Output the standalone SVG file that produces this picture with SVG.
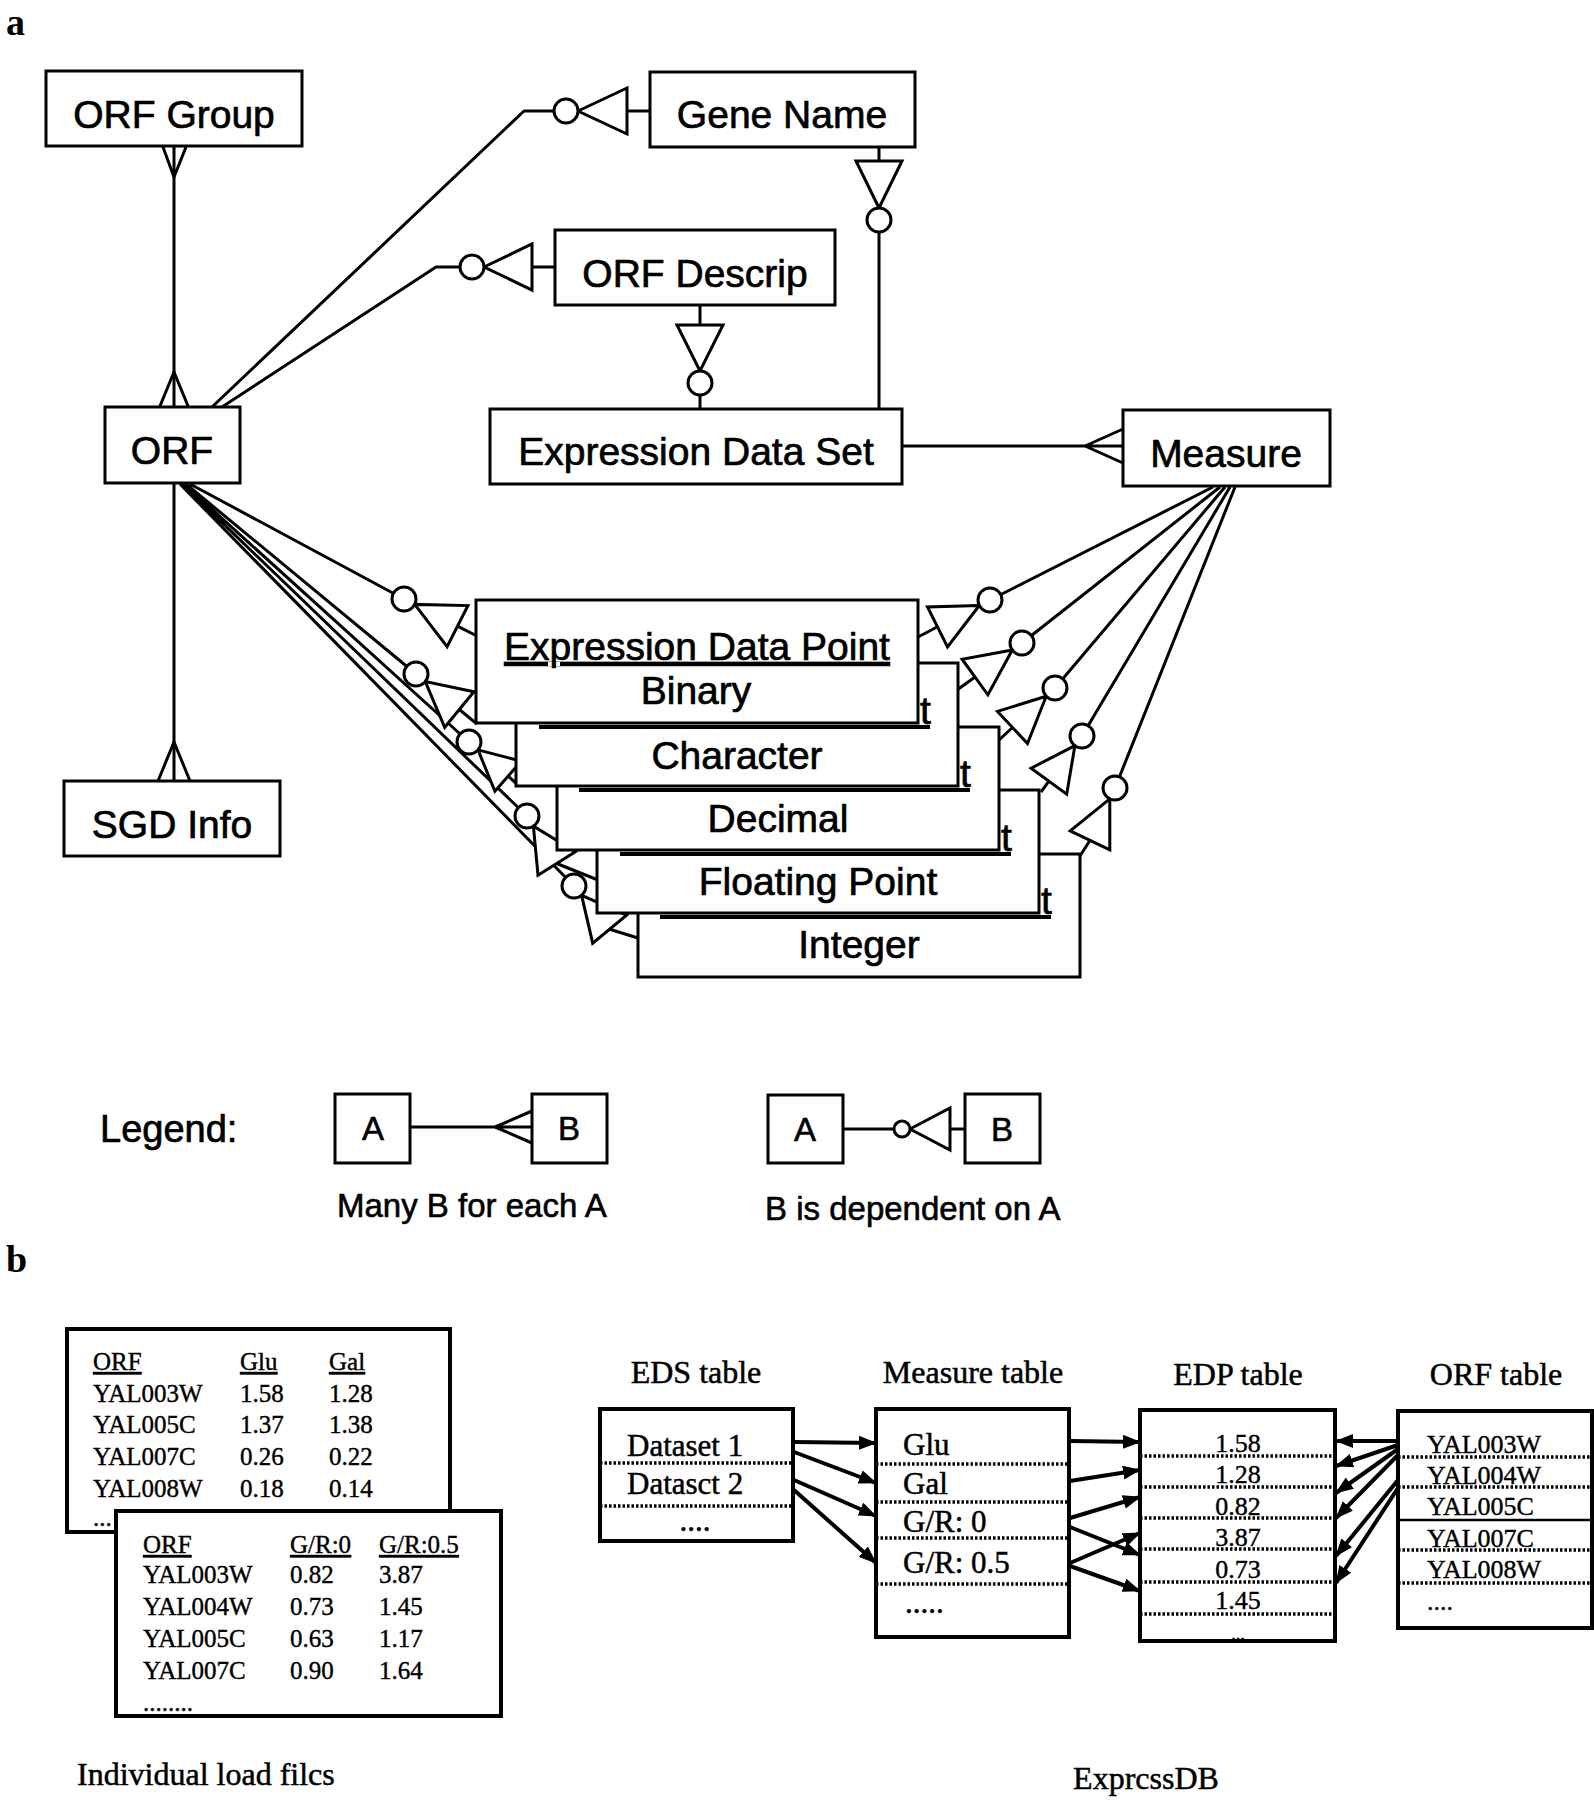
<svg xmlns="http://www.w3.org/2000/svg" width="1594" height="1800" viewBox="0 0 1594 1800">
<defs>
<style>
.box{fill:#fff;stroke:#000;stroke-width:3}
.bx{fill:#fff;stroke:#000;stroke-width:4}
.ln{fill:none;stroke:#000;stroke-width:3;stroke-linejoin:round}
.sym{fill:#fff;stroke:#000;stroke-width:3;stroke-linejoin:miter}
.ar{fill:none;stroke:#000;stroke-width:4;marker-end:url(#ah)}
.dot{fill:none;stroke:#000;stroke-width:3.5;stroke-dasharray:2.5 2}
.h{font-family:"Liberation Sans",Arial,Helvetica,sans-serif;font-size:39px;fill:#000;stroke:#000;stroke-width:0.7}
.hm{text-anchor:middle}
.lg{font-family:"Liberation Sans",Arial,Helvetica,sans-serif;font-size:33px;fill:#000;stroke:#000;stroke-width:0.6}
.pl{font-family:"Liberation Serif","Times New Roman",serif;font-weight:bold;font-size:38px;fill:#000}
.t25{font-family:"Liberation Serif","Times New Roman",serif;font-size:25px;fill:#000;stroke:#000;stroke-width:0.4}
.t26{font-family:"Liberation Serif","Times New Roman",serif;font-size:26px;fill:#000;stroke:#000;stroke-width:0.4}
.t31{font-family:"Liberation Serif","Times New Roman",serif;font-size:31px;fill:#000;stroke:#000;stroke-width:0.5}
.t32{font-family:"Liberation Serif","Times New Roman",serif;font-size:32px;fill:#000;stroke:#000;stroke-width:0.5}
.u{text-decoration:underline}
</style>
<marker id="ah" markerUnits="userSpaceOnUse" markerWidth="18" markerHeight="14" refX="17" refY="7" orient="auto"><path d="M0,0 L18,7 L0,14 z" fill="#000"/></marker>
</defs>
<rect width="1594" height="1800" fill="#fff"/>

<text class="pl" x="6" y="35">a</text>
<text class="pl" x="6" y="1272">b</text>

<!-- connectors panel a -->
<g id="connectors-a">
  <!-- ORF Group - ORF -->
  <path class="ln" d="M174,146 V407"/>
  <path class="ln" d="M163,147 L174,177 L186,147 M160,406 L174,372 L188,406"/>
  <!-- ORF - SGD Info -->
  <path class="ln" d="M174,483 V781"/>
  <path class="ln" d="M158,781 L174,742 L190,781"/>
  <!-- ORF - Gene Name -->
  <path class="ln" d="M212,407 L524,111 L566,111 M627,111 H650"/>
  <polygon class="sym" points="578,111 627,88 627,134"/>
  <circle class="sym" cx="566" cy="111" r="12"/>
  <!-- ORF - ORF Descrip -->
  <path class="ln" d="M222,407 L436,267 L472,267 M532,267 H555"/>
  <polygon class="sym" points="484,267 532,244 532,290"/>
  <circle class="sym" cx="472" cy="267" r="12"/>
  <!-- Gene Name - Expression Data Set -->
  <path class="ln" d="M879,147 V409"/>
  <polygon class="sym" points="879,208 856,161 902,161"/>
  <circle class="sym" cx="879" cy="220" r="12"/>
  <!-- ORF Descrip - Expression Data Set -->
  <path class="ln" d="M700,305 V409"/>
  <polygon class="sym" points="700,371 677,325 723,325"/>
  <circle class="sym" cx="700" cy="383" r="12"/>
  <!-- Expression Data Set - Measure -->
  <path class="ln" d="M902,446 H1123 M1085,446 L1123,429 M1085,446 L1123,463"/>

  <!-- ORF - Expression Data Point stack -->
  <path class="ln" d="M190,484 L404,599 M186,484 L416,674 M184,484 L469,742 M182,484 L527,816 M180,484 L574,886"/>
  <path class="ln" d="M457.5,626.1 L477,636 M459.3,709.5 L477,724 M508.1,776.2 L517,784 M556.7,863.5 L598,880 M609.6,929.2 L638,938"/>
  <polygon class="sym" points="414.7,604.4 447.1,646.6 467.9,605.6"/>
  <polygon class="sym" points="425.3,681.6 444.7,727.3 473.9,691.7"/>
  <polygon class="sym" points="478,749.9 494.9,791.2 521.3,761.2"/>
  <polygon class="sym" points="533.4,826.2 538,875.2 575.4,851.8"/>
  <polygon class="sym" points="581.6,895.3 592.7,943.2 626.6,915.2"/>
  <circle class="sym" cx="404" cy="599" r="12"/>
  <circle class="sym" cx="416" cy="674" r="12"/>
  <circle class="sym" cx="469" cy="742" r="12"/>
  <circle class="sym" cx="527" cy="816" r="12"/>
  <circle class="sym" cx="574" cy="886" r="12"/>

  <!-- Measure - Expression Data Point stack -->
  <path class="ln" d="M1213,487 L990,600 M1220,487 L1022,643 M1225,487 L1055,688 M1230,487 L1082,736 M1235,487 L1115,788"/>
  <path class="ln" d="M938,626.5 L918,637 M975,677 L957,690 M1012.5,727.5 L999,740 M1048.9,781.2 L1041,792 M1090,840.3 L1080,856"/>
  <polygon class="sym" points="979.3,605.5 927.5,607 947.5,647"/>
  <polygon class="sym" points="1012.3,650 962.1,659.2 987.9,694.8"/>
  <polygon class="sym" points="1046.2,696.2 997.5,711.4 1027.5,743.6"/>
  <polygon class="sym" points="1074.9,745.7 1031.1,768.2 1066.7,794.2"/>
  <polygon class="sym" points="1109.8,798.8 1070.2,830.8 1109.8,849.8"/>
  <circle class="sym" cx="990" cy="600" r="12"/>
  <circle class="sym" cx="1022" cy="643" r="12"/>
  <circle class="sym" cx="1055" cy="688" r="12"/>
  <circle class="sym" cx="1082" cy="736" r="12"/>
  <circle class="sym" cx="1115" cy="788" r="12"/>
</g>

<!-- nodes panel a -->
<g id="node-orf-group"><rect class="box" x="46" y="71" width="256" height="75"/><text class="h hm" x="174" y="128">ORF Group</text></g>
<g id="node-gene-name"><rect class="box" x="650" y="72" width="265" height="75"/><text class="h hm" x="782" y="128">Gene Name</text></g>
<g id="node-orf-descrip"><rect class="box" x="555" y="230" width="280" height="75"/><text class="h hm" x="695" y="287">ORF Descrip</text></g>
<g id="node-orf"><rect class="box" x="105" y="407" width="135" height="76"/><text class="h hm" x="172" y="464">ORF</text></g>
<g id="node-eds"><rect class="box" x="490" y="409" width="412" height="75"/><text class="h hm" x="696" y="465">Expression Data Set</text></g>
<g id="node-measure"><rect class="box" x="1123" y="410" width="207" height="76"/><text class="h hm" x="1226" y="467">Measure</text></g>
<g id="node-sgd-info"><rect class="box" x="64" y="781" width="216" height="75"/><text class="h hm" x="172" y="838">SGD Info</text></g>

<g id="node-integer"><rect class="box" x="638" y="854" width="442" height="123"/><text class="h hm" x="859" y="958">Integer</text></g>
<g id="node-floating"><rect class="box" x="597" y="790" width="442" height="123"/><text class="h hm" x="818" y="895">Floating Point</text>
  <path d="M660,917 H1051" stroke="#000" stroke-width="4"/><text class="h" x="1041" y="914">t</text></g>
<g id="node-decimal"><rect class="box" x="557" y="727" width="442" height="123"/><text class="h hm" x="778" y="832">Decimal</text>
  <path d="M620,854 H1011" stroke="#000" stroke-width="4"/><text class="h" x="1001" y="851">t</text></g>
<g id="node-character"><rect class="box" x="516" y="663" width="442" height="123"/><text class="h hm" x="737" y="769">Character</text>
  <path d="M579,790 H970" stroke="#000" stroke-width="4"/><text class="h" x="960" y="787">t</text></g>
<g id="node-edp"><rect class="box" x="476" y="600" width="442" height="123"/><text class="h hm u" x="697" y="660">Expression Data Point</text><text class="h hm" x="696" y="704">Binary</text>
  <path d="M539,727 H930" stroke="#000" stroke-width="4"/><text class="h" x="920" y="724">t</text></g>

<!-- legend -->
<g id="legend">
  <text class="h" x="100" y="1142" style="font-size:38px">Legend:</text>
  <g id="legend-many">
    <rect class="box" x="335" y="1094" width="75" height="69"/><text class="lg hm" x="373" y="1140">A</text>
    <rect class="box" x="532" y="1094" width="75" height="69"/><text class="lg hm" x="569" y="1140">B</text>
    <path class="ln" d="M410,1127 H532 M495,1127 L532,1111 M495,1127 L532,1143"/>
    <text class="lg" x="337" y="1217">Many B for each A</text>
  </g>
  <g id="legend-dep">
    <rect class="box" x="768" y="1095" width="75" height="68"/><text class="lg hm" x="805" y="1141">A</text>
    <rect class="box" x="965" y="1094" width="75" height="69"/><text class="lg hm" x="1002" y="1141">B</text>
    <path class="ln" d="M843,1129 H895 M950,1129 H965"/>
    <polygon class="sym" points="910,1129 950,1108 950,1150"/>
    <circle class="sym" cx="902" cy="1129" r="8"/>
    <text class="lg" x="765" y="1220">B is dependent on A</text>
  </g>
</g>

<!-- panel b -->
<g id="load-file-1">
  <rect class="bx" x="67" y="1329" width="383" height="203"/>
  <text class="t25 u" x="93" y="1370">ORF</text><text class="t25 u" x="240" y="1370">Glu</text><text class="t25 u" x="329" y="1370">Gal</text>
  <text class="t25" x="93" y="1402">YAL003W</text><text class="t25" x="240" y="1402">1.58</text><text class="t25" x="329" y="1402">1.28</text>
  <text class="t25" x="93" y="1433">YAL005C</text><text class="t25" x="240" y="1433">1.37</text><text class="t25" x="329" y="1433">1.38</text>
  <text class="t25" x="93" y="1465">YAL007C</text><text class="t25" x="240" y="1465">0.26</text><text class="t25" x="329" y="1465">0.22</text>
  <text class="t25" x="93" y="1497">YAL008W</text><text class="t25" x="240" y="1497">0.18</text><text class="t25" x="329" y="1497">0.14</text>
  <text class="t25" x="93" y="1526">...</text>
</g>
<g id="load-file-2">
  <rect class="bx" x="116" y="1511" width="385" height="205"/>
  <text class="t25 u" x="143" y="1553">ORF</text><text class="t25 u" x="290" y="1553">G/R:0</text><text class="t25 u" x="379" y="1553">G/R:0.5</text>
  <text class="t25" x="143" y="1583">YAL003W</text><text class="t25" x="290" y="1583">0.82</text><text class="t25" x="379" y="1583">3.87</text>
  <text class="t25" x="143" y="1615">YAL004W</text><text class="t25" x="290" y="1615">0.73</text><text class="t25" x="379" y="1615">1.45</text>
  <text class="t25" x="143" y="1647">YAL005C</text><text class="t25" x="290" y="1647">0.63</text><text class="t25" x="379" y="1647">1.17</text>
  <text class="t25" x="143" y="1679">YAL007C</text><text class="t25" x="290" y="1679">0.90</text><text class="t25" x="379" y="1679">1.64</text>
  <text class="t25" x="143" y="1711">........</text>
</g>
<text class="t32" x="77" y="1785">Individual load filcs</text>

<text class="t32 hm" x="696" y="1383">EDS table</text>
<text class="t32 hm" x="973" y="1383">Measure table</text>
<text class="t32 hm" x="1238" y="1385">EDP table</text>
<text class="t32 hm" x="1496" y="1385">ORF table</text>

<g id="eds-table">
  <rect class="bx" x="600" y="1409" width="193" height="132"/>
  <path class="dot" d="M600,1463 H793 M600,1506 H793"/>
  <text class="t31" x="627" y="1456">Dataset 1</text>
  <text class="t31" x="627" y="1494">Datasct 2</text>
  <text class="t31 hm" x="695" y="1531">....</text>
</g>
<g id="measure-table">
  <rect class="bx" x="876" y="1409" width="193" height="228"/>
  <path class="dot" d="M876,1464 H1069 M876,1502 H1069 M876,1538 H1069 M876,1584 H1069"/>
  <text class="t31" x="903" y="1455">Glu</text>
  <text class="t31" x="903" y="1494">Gal</text>
  <text class="t31" x="903" y="1532">G/R: 0</text>
  <text class="t31" x="903" y="1573">G/R: 0.5</text>
  <text class="t31" x="905" y="1613">.....</text>
</g>
<g id="edp-table">
  <rect class="bx" x="1140" y="1410" width="195" height="231"/>
  <path class="dot" d="M1140,1456 H1335 M1140,1487 H1335 M1140,1518 H1335 M1140,1549 H1335 M1140,1582 H1335 M1140,1614 H1335"/>
  <text class="t26 hm" x="1238" y="1452">1.58</text>
  <text class="t26 hm" x="1238" y="1483">1.28</text>
  <text class="t26 hm" x="1238" y="1515">0.82</text>
  <text class="t26 hm" x="1238" y="1546">3.87</text>
  <text class="t26 hm" x="1238" y="1578">0.73</text>
  <text class="t26 hm" x="1238" y="1609">1.45</text>
  <text class="t26 hm" x="1238" y="1640" style="font-size:18px">...</text>
</g>
<g id="orf-table">
  <rect class="bx" x="1398" y="1411" width="194" height="217"/>
  <path class="dot" d="M1398,1457 H1592 M1398,1487 H1592 M1398,1550 H1592 M1398,1583 H1592"/>
  <path d="M1398,1520 H1592" stroke="#000" stroke-width="2.5"/>
  <text class="t26" x="1427" y="1453">YAL003W</text>
  <text class="t26" x="1427" y="1484">YAL004W</text>
  <text class="t26" x="1427" y="1515">YAL005C</text>
  <text class="t26" x="1427" y="1547">YAL007C</text>
  <text class="t26" x="1427" y="1578">YAL008W</text>
  <text class="t26" x="1427" y="1610">....</text>
</g>
<text class="t32 hm" x="1146" y="1789">ExprcssDB</text>

<g id="connectors-b">
  <path class="ar" d="M794,1442 L876,1443"/>
  <path class="ar" d="M794,1452 L876,1483"/>
  <path class="ar" d="M794,1480 L876,1516"/>
  <path class="ar" d="M794,1490 L876,1563"/>
  <path class="ar" d="M1070,1441 L1140,1442"/>
  <path class="ar" d="M1070,1481 L1140,1470"/>
  <path class="ar" d="M1070,1518 L1140,1497"/>
  <path class="ar" d="M1070,1527 L1140,1555"/>
  <path class="ar" d="M1070,1563 L1140,1533"/>
  <path class="ar" d="M1070,1566 L1140,1591"/>
  <path class="ar" d="M1398,1441 L1336,1441"/>
  <path class="ar" d="M1398,1445 L1336,1466"/>
  <path class="ar" d="M1398,1449 L1336,1493"/>
  <path class="ar" d="M1398,1455 L1336,1518"/>
  <path class="ar" d="M1398,1480 L1336,1556"/>
  <path class="ar" d="M1398,1488 L1336,1583"/>
</g>
</svg>
